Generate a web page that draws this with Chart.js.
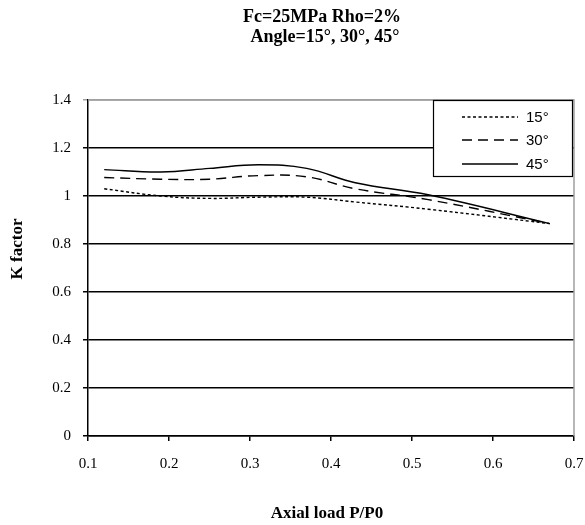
<!DOCTYPE html>
<html>
<head>
<meta charset="utf-8">
<script src="https://cdn.jsdelivr.net/npm/chart.js@4/dist/chart.umd.min.js"></script>
<style>
  html, body { margin: 0; padding: 0; background: #fff; }
</style>
</head>
<body>
<canvas id="chart" width="585" height="525"></canvas>
<script>
// data
var loads = [0.12, 0.19, 0.25, 0.31, 0.37, 0.43, 0.52, 0.67];
var k15 = [1.03, 1.0, 0.99, 0.995, 0.995, 0.975, 0.945, 0.885];
var k30 = [1.077, 1.07, 1.07, 1.085, 1.08, 1.03, 0.985, 0.885];
var k45 = [1.11, 1.10, 1.115, 1.13, 1.115, 1.055, 1.005, 0.885];
var seriesNames = ['15°', '30°', '45°'];
var titleLines = ['Fc=25MPa Rho=2%', 'Angle=15°, 30°, 45°'];

function pts(ys) {
  return loads.map(function (x, i) { return { x: x, y: ys[i] }; });
}

// titles + boxed legend, drawn by hand to sit where the original does
var decor = {
  id: 'decor',
  afterDraw: function (chart) {
    var c = chart.ctx, a = chart.chartArea;
    c.save();
    // grey frame on top / right of plot
    c.strokeStyle = '#a0a0a0';
    c.lineWidth = 1.5;
    c.beginPath();
    c.moveTo(a.left, a.top); c.lineTo(a.right, a.top); c.lineTo(a.right, a.bottom);
    c.stroke();

    c.fillStyle = '#000';
    c.textAlign = 'center';
    c.textBaseline = 'middle';
    c.font = 'bold 18px "Liberation Serif", "Times New Roman", serif';
    c.fillText(titleLines[0], 322, 17);
    c.fillText(titleLines[1], 325, 37);
    c.font = 'bold 17px "Liberation Serif", "Times New Roman", serif';
    c.fillText('Axial load P/P0', 327, 514);
    c.translate(18, 249);
    c.rotate(-Math.PI / 2);
    c.fillText('K factor', 0, 0);
    c.restore();

    // legend
    c.save();
    c.fillStyle = '#fff';
    c.fillRect(433, 100, 139, 76);
    c.strokeStyle = '#000';
    c.lineWidth = 1.2;
    c.strokeRect(433.5, 100.5, 139, 76);
    var rows = [117, 140, 164];
    chart.data.datasets.forEach(function (ds, i) {
      c.strokeStyle = ds.borderColor;
      c.lineWidth = ds.borderWidth;
      c.setLineDash(ds.borderDash || []);
      c.beginPath();
      c.moveTo(462, rows[i]); c.lineTo(518, rows[i]);
      c.stroke();
      c.setLineDash([]);
      c.fillStyle = '#000';
      c.font = '15px "Liberation Sans", Arial, sans-serif';
      c.textAlign = 'left';
      c.textBaseline = 'middle';
      c.fillText(ds.label, 526, rows[i] + 1);
    });
    c.restore();
  }
};

var tickFont = { family: '"Liberation Serif", "Times New Roman", serif', size: 15 };
function fmt(v) { return String(Math.round(v * 10) / 10); }

new Chart(document.getElementById('chart'), {
  type: 'line',
  data: {
    datasets: [
      { label: seriesNames[0], data: pts(k15), borderColor: '#000', borderWidth: 1.4, borderDash: [3, 2.5] },
      { label: seriesNames[1], data: pts(k30), borderColor: '#000', borderWidth: 1.4, borderDash: [10, 6] },
      { label: seriesNames[2], data: pts(k45), borderColor: '#000', borderWidth: 1.4 }
    ]
  },
  options: {
    responsive: false,
    animation: false,
    devicePixelRatio: 1,
    layout: { padding: { top: 100, right: 11, left: 0, bottom: 0 } },
    elements: {
      point: { radius: 0 },
      line: { tension: 0.4, fill: false }
    },
    plugins: {
      legend: { display: false },
      title: { display: false },
      tooltip: { enabled: false }
    },
    scales: {
      x: {
        type: 'linear',
        min: 0.1, max: 0.7,
        afterFit: function (s) { s.height = 89; s.paddingRight = 0; s.paddingLeft = 0; },
        ticks: { stepSize: 0.1, color: '#000', font: tickFont, padding: 14, maxRotation: 0, callback: fmt },
        grid: { drawOnChartArea: false, drawTicks: true, tickLength: 5, color: '#000', lineWidth: 1.5 },
        border: { color: '#000', width: 1.5 }
      },
      y: {
        min: 0, max: 1.4,
        afterFit: function (s) { s.width = 88; s.paddingTop = 0; s.paddingBottom = 0; },
        ticks: { stepSize: 0.2, color: '#000', font: tickFont, padding: 12, callback: fmt },
        grid: {
          tickLength: 5,
          lineWidth: 1.5,
          color: function (ctx) { return ctx.index === 7 ? '#a0a0a0' : '#000'; }
        },
        border: { color: '#000', width: 1.5 }
      }
    }
  },
  plugins: [decor]
});
</script>
</body>
</html>
